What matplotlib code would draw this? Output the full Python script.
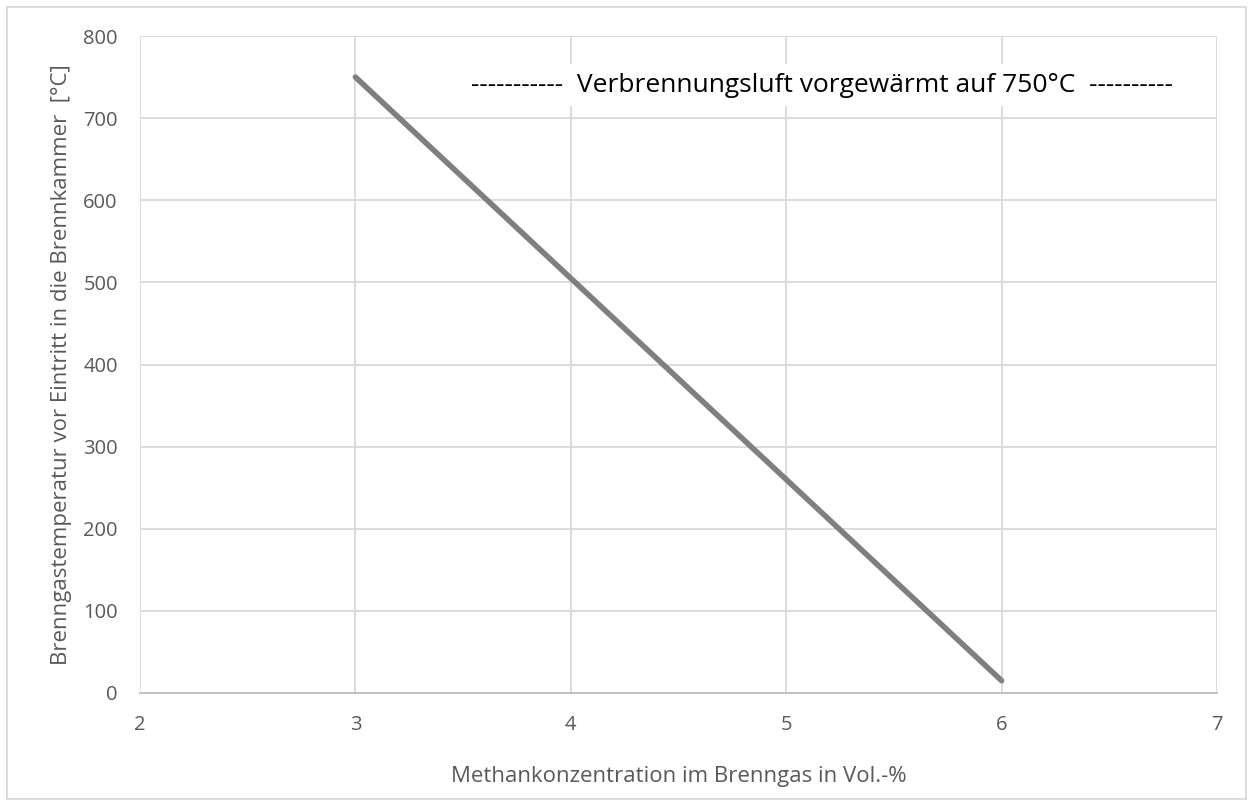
import matplotlib.pyplot as plt
from matplotlib.patches import Rectangle

plt.rcParams['font.family'] = ['Open Sans', 'DejaVu Sans']

# Daten
methan = [3, 4, 5, 6]
temperatur = [750, 505, 260, 15]

fig = plt.figure(figsize=(12.53, 8.06), dpi=100)
ax = fig.add_axes([140 / 1253, 1 - 693 / 806, 1077 / 1253, 657 / 806])

ax.plot(methan, temperatur, color='#7f7f7f', linewidth=4, solid_capstyle='round', zorder=3)

ax.set_xlim(2, 7)
ax.set_ylim(0, 800)
ax.set_xticks(range(2, 8))
ax.set_yticks(range(0, 801, 100))
ax.grid(color='#d9d9d9', linewidth=1.3)
ax.set_axisbelow(True)
for s in ['top', 'right', 'left']:
    ax.spines[s].set_visible(False)
ax.spines['bottom'].set_color('#bfbfbf')
ax.spines['bottom'].set_linewidth(1.3)
ax.tick_params(axis='y', length=0, labelsize=14.5, labelcolor='#595959', pad=16)
ax.tick_params(axis='x', length=0, labelsize=14.5, labelcolor='#595959', pad=16)

ax.set_xlabel('Methankonzentration im Brenngas in Vol.-%', fontsize=16, color='#595959', labelpad=22)
ax.set_ylabel('Brenngastemperatur vor Eintritt in die Brennkammer  [°C]', fontsize=16, color='#595959', labelpad=8)

ax.text(0.633, 0.925, '-----------  Verbrennungsluft vorgewärmt auf 750°C  ----------',
        transform=ax.transAxes, ha='center', va='center', fontsize=19, color='black',
        bbox=dict(facecolor='white', edgecolor='none', pad=6), zorder=4)

# Rahmen um das Diagramm
fig.patches.append(Rectangle((7 / 1253, 7 / 806), 1 - 14 / 1253, 1 - 14 / 806,
                             transform=fig.transFigure, fill=False, edgecolor='#d9d9d9', linewidth=1.3))

plt.savefig('out.png', dpi=100)
